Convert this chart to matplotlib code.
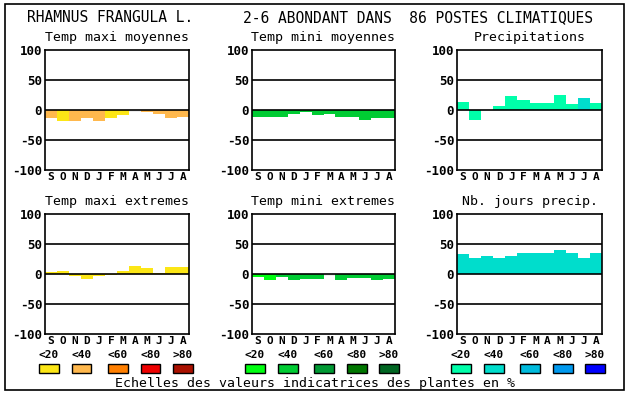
import matplotlib
matplotlib.use("Agg")
import matplotlib.pyplot as plt
from matplotlib.patches import Rectangle

# --- Donnees ---
mois = ["S", "O", "N", "D", "J", "F", "M", "A", "M", "J", "J", "A"]
titres = ["Temp maxi moyennes", "Temp mini moyennes", "Precipitations",
          "Temp maxi extremes", "Temp mini extremes", "Nb. jours precip."]

tmax_moy = [-13, -18, -18, -14, -18, -13, -8, -3, -4, -7, -14, -11]
tmin_moy = [-12, -12, -12, -7, -4, -8, -7, -12, -11, -16, -14, -14]
precip = [13, -17, 0, 7, 23, 17, 12, 12, 25, 10, 20, 12]
tmax_ext = [3, 5, -4, -8, -4, -2, 5, 14, 10, 2, 12, 12]
tmin_ext = [-5, -10, -5, -10, -8, -8, -4, -10, -7, -7, -10, -8]
nb_jours = [33, 27, 30, 27, 30, 35, 35, 35, 40, 35, 27, 35]

# classe de pourcentage de chaque barre (0 = <20, 1 = <40, ... ; 5 = presque nul)
cl_tmax_moy = [1, 0, 1, 1, 1, 0, 0, 5, 1, 1, 1, 1]
cl_tmin_moy = [1] * 12
cl_precip = [0, 0, 0, 0, 0, 0, 0, 0, 0, 0, 1, 0]
cl_tmax_ext = [0] * 12
cl_tmin_ext = [0, 0, 1, 1, 1, 1, 5, 1, 1, 1, 1, 1]
cl_nb_jours = [1] * 12

classes = ["<20", "<40", "<60", "<80", ">80"]
rouges = ["#fce616", "#ffb84d", "#ff7f00", "#ee0000", "#aa1100"]
verts = ["#00ff11", "#00cc33", "#009933", "#007700", "#006622"]
bleus = ["#00ffaa", "#00ddcc", "#00bbdd", "#0099ee", "#0000ff"]
blanc = "#eeeeee"

series = [(tmax_moy, cl_tmax_moy, rouges), (tmin_moy, cl_tmin_moy, verts),
          (precip, cl_precip, bleus), (tmax_ext, cl_tmax_ext, rouges),
          (tmin_ext, cl_tmin_ext, verts), (nb_jours, cl_nb_jours, bleus)]

W, H = 630, 394
fig = plt.figure(figsize=(W / 100, H / 100), dpi=100)
mono = "DejaVu Sans Mono"


def px(x, y):
    # coordonnees pixel (origine en haut a gauche) -> coordonnees figure
    return x / W, 1 - y / H


# cadre exterieur
fig.add_artist(Rectangle(px(5, 390), 619 / W, 386 / H, transform=fig.transFigure,
                         fill=False, edgecolor="black", lw=1.2))

fig.text(*px(27, 18), "RHAMNUS FRANGULA L.", family=mono, fontsize=10.5,
         ha="left", va="center")
fig.text(*px(243, 18), "2-6 ABONDANT DANS  86 POSTES CLIMATIQUES", family=mono,
         fontsize=10.5, ha="left", va="center")

cols = [(45, 144), (252, 143), (457, 145)]
lignes = [50, 214]

for i, (valeurs, cl, palette) in enumerate(series):
    x0, larg = cols[i % 3]
    y0 = lignes[i // 3]
    ax = fig.add_axes([x0 / W, 1 - (y0 + 120) / H, larg / W, 120 / H])
    couleurs = [blanc if c == 5 else palette[c] for c in cl]
    ax.bar(range(12), valeurs, width=1.0, color=couleurs, zorder=2)
    for y in (-50, 0, 50):
        ax.axhline(y, color="black", lw=1.2, zorder=3)
    ax.set_xlim(-0.5, 11.5)
    ax.set_ylim(-100, 100)
    ax.set_yticks([-100, -50, 0, 50, 100])
    ax.set_yticklabels(["-100", "-50", "0", "50", "100"], family=mono,
                       fontweight="bold", fontsize=9)
    ax.set_xticks(range(12))
    ax.set_xticklabels(mois, family=mono, fontweight="bold", fontsize=8)
    ax.tick_params(axis="x", length=0, pad=1.5)
    ax.tick_params(axis="y", length=0, pad=2)
    for s in ax.spines.values():
        s.set_linewidth(1.2)
    fig.text((x0 + larg / 2) / W, 1 - (y0 - 12) / H, titres[i], family=mono,
             fontsize=9.5, ha="center", va="center")

# echelles (legende)
boites = [45, 251, 457]
for j, palette in enumerate([rouges, verts, bleus]):
    for k, c in enumerate(palette):
        bx = boites[j] - 6 + 32.5 * k + (4 if k >= 2 else 0)
        fig.text(*px(bx + 10, 355), classes[k], family=mono, fontweight="bold",
                 fontsize=8, ha="center", va="center")
        fig.add_artist(Rectangle(px(bx, 373), 20 / W, 9 / H, transform=fig.transFigure,
                                 facecolor=c, edgecolor="black", lw=1))

fig.text(*px(315, 383), "Echelles des valeurs indicatrices des plantes en %",
         family=mono, fontsize=9.5, ha="center", va="center")

fig.savefig("out.png", dpi=100)
